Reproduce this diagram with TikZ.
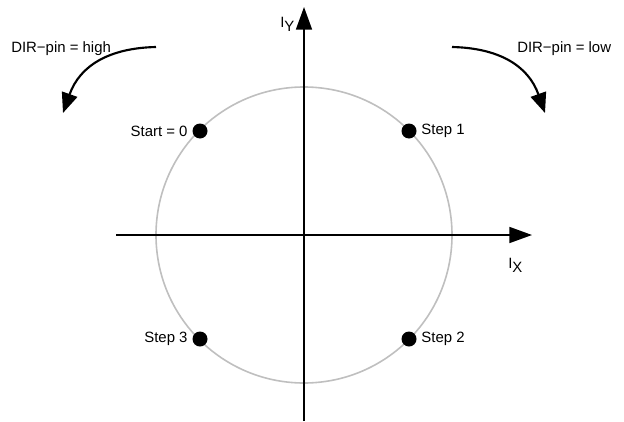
\documentclass[tikz,border=0pt]{standalone}
\usepackage{fontspec}
\setmainfont{Liberation Sans}
\usetikzlibrary{arrows.meta}

\begin{document}
\begin{tikzpicture}[x=0.75pt,y=-0.75pt,
  every node/.style={font=\fontsize{11.2}{13}\selectfont},
  axis/.style={line width=1.3pt,-{Triangle[length=17pt,width=12pt]}},
  ring/.style={draw=black!25,line width=1.2pt},
  dot/.style={circle,fill,inner sep=0pt,minimum size=11.25pt},
  turn/.style={line width=1.6pt,-{Triangle[length=15pt,width=12pt]}},
  tag/.style={anchor=base west,inner sep=0pt}]
  \useasboundingbox (0,0) rectangle (624,421);
  % axes and circle
  \coordinate (O) at (304,235);
  \coordinate (xl) at (116,235);
  \coordinate (xr) at (532,235);
  \coordinate (yb) at (304,421);
  \coordinate (yt) at (304,7);
  \draw[ring] (O) circle (148);
  \draw[axis] (xl) -- (xr);
  \draw[axis] (yb) -- (yt);
  \node[tag] (iy) at (280,27) {I\raisebox{-3pt}{Y}};
  \node[tag] (ix) at (508,268) {I\raisebox{-3pt}{X}};
  % the four steps
  \foreach \nm/\px/\py/\side/\anc/\txt in {
    start/200/131/west/east/{Start = 0},
    one/409/131/east/west/{Step 1},
    two/409/339/east/west/{Step 2},
    three/200/339/west/east/{Step 3}} {
    \node[dot] (\nm) at (\px,\py) {};
    \node[anchor=\anc] at (\nm.\side) {\txt};
  }
  % direction of rotation
  \coordinate (hs) at (156,47);
  \coordinate (he) at (63,113);
  \coordinate (ls) at (452,47);
  \coordinate (le) at (545,113);
  \draw[turn] (hs) .. controls (110,48) and (80,65) .. (he);
  \draw[turn] (ls) .. controls (498,48) and (528,65) .. (le);
  \node[tag] (high) at (11,52) {DIR−pin = high};
  \node[tag] (low) at (517,52) {DIR−pin = low};
\end{tikzpicture}
\end{document}
